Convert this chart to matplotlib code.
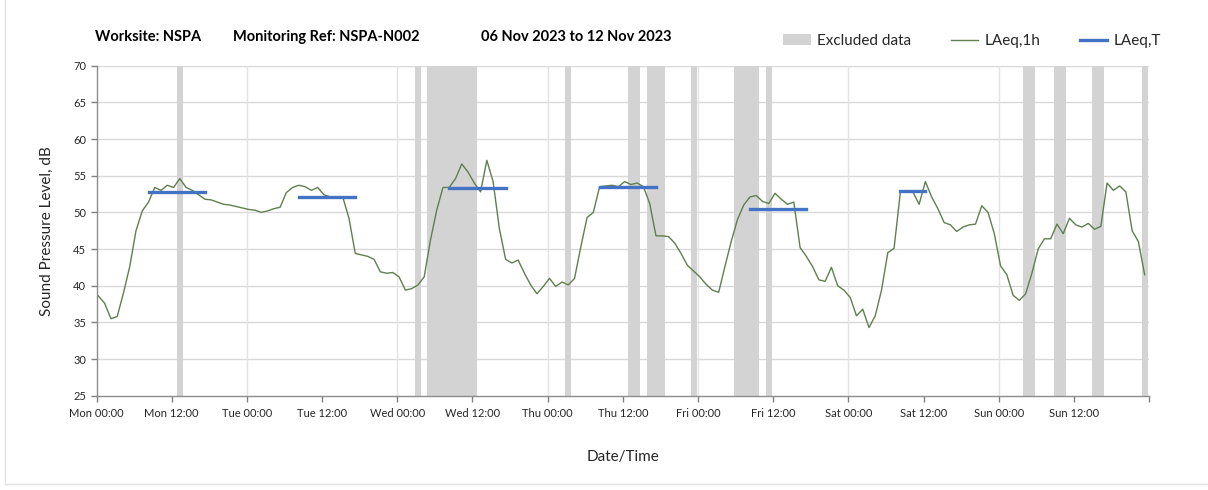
import matplotlib
matplotlib.use("Agg")
import matplotlib.pyplot as plt
from matplotlib.patches import Patch
from matplotlib.lines import Line2D
import numpy as np

plt.rcParams['font.family'] = ['Lato', 'DejaVu Sans']

# ---- data ----
laeq_1h = [
    38.6, 37.6, 35.5, 35.8, 39.0, 42.6, 47.5, 50.2, 51.4, 53.4, 53.0, 53.7,
    53.4, 54.6, 53.4, 53.0, 52.4, 51.8, 51.7, 51.4, 51.1, 51.0, 50.8, 50.6,
    50.4, 50.3, 50.0, 50.2, 50.5, 50.7, 52.7, 53.4, 53.7, 53.5, 53.0, 53.4,
    52.4, 52.1, 52.1, 52.1, 49.2, 44.4, 44.2, 44.0, 43.6, 41.9, 41.7, 41.8,
    41.2, 39.4, 39.6, 40.1, 41.2, 46.2, 50.3, 53.4, 53.4, 54.6, 56.6, 55.5,
    54.0, 52.8, 57.1, 54.2, 47.8, 43.6, 43.1, 43.5, 41.7, 40.1, 38.9, 39.9,
    41.0, 39.9, 40.5, 40.1, 41.0, 45.3, 49.3, 50.0, 53.5, 53.6, 53.7, 53.5,
    54.2, 53.8, 54.0, 53.5, 51.2, 46.8, 46.8, 46.7, 45.8, 44.4, 42.8, 42.0,
    41.2, 40.2, 39.4, 39.1, 42.6, 46.0, 49.0, 51.0, 52.1, 52.3, 51.5, 51.2,
    52.6, 51.8, 51.1, 51.4, 45.2, 44.0, 42.6, 40.8, 40.6, 42.5, 40.0, 39.4,
    38.4, 35.9, 36.8, 34.3, 35.9, 39.4, 44.5, 45.1, 52.7, 52.9, 52.8, 51.1,
    54.2, 52.1, 50.5, 48.6, 48.3, 47.4, 48.0, 48.3, 48.4, 50.9, 50.0, 47.1,
    42.7, 41.5, 38.7, 38.0, 38.9, 41.7, 45.0, 46.4, 46.4, 48.4, 47.1, 49.2,
    48.3, 48.0, 48.5, 47.7, 48.1, 54.0, 53.0, 53.6, 52.8, 47.5, 46.0, 41.5,
]
excluded_hours = [13, 51, 53, 54, 55, 56, 57, 58, 59, 60, 75, 85, 86, 88, 89,
                  90, 95, 102, 103, 104, 105, 107, 148, 149, 153, 154, 159,
                  160, 167]
# LAeq,T periods: (start hour, end hour, level)
period_start = [8.3, 32.3, 56.3, 80.3, 104.3, 128.3]
period_end = [17.3, 41.3, 65.3, 89.3, 113.3, 132.3]
period_level = [52.8, 52.1, 53.3, 53.5, 50.5, 52.9]

tick_labels = ["Mon 00:00", "Mon 12:00", "Tue 00:00", "Tue 12:00",
               "Wed 00:00", "Wed 12:00", "Thu 00:00", "Thu 12:00",
               "Fri 00:00", "Fri 12:00", "Sat 00:00", "Sat 12:00",
               "Sun 00:00", "Sun 12:00"]
time_offset = 0.3  # hourly values plotted slightly after the hour

# ---- group excluded hours into contiguous runs ----
runs = []
for h in excluded_hours:
    if runs and h == runs[-1][1] + 1:
        runs[-1][1] = h
    else:
        runs.append([h, h])
run_left = np.array([r[0] for r in runs]) + time_offset - 0.48
run_width = np.array([r[1] - r[0] for r in runs]) + 0.96

# ---- figure ----
fig = plt.figure(figsize=(12.08, 4.90), dpi=100)
ax = fig.add_axes([0.0799, 0.1924, 0.8713, 0.6735])

# faint outer frame lines (left and bottom)
yb = 1 - 484 / 490
fig.add_artist(Line2D([5 / 1208, 5 / 1208], [yb, 1],
                      transform=fig.transFigure, color='#e3e3e3', lw=1.0))
fig.add_artist(Line2D([5 / 1208, 1], [yb, yb],
                      transform=fig.transFigure, color='#e3e3e3', lw=1.0))

grid_c = '#d9d9d9'
excl_c = '#d3d3d3'
green = '#5f7f4f'
blue = '#4472c4'
txt_c = '#262626'

t = np.arange(len(laeq_1h)) + time_offset
ax.bar(run_left, 45, bottom=25, width=run_width, align='edge', color=excl_c,
       linewidth=0, zorder=1)

for y in range(30, 75, 5):
    ax.axhline(y, color=grid_c, lw=1.0, zorder=0)
for d in range(24, 168, 24):
    ax.axvline(d, color='#e3e3e3', lw=1.0, zorder=0)

ax.plot(t, laeq_1h, color=green, lw=1.0, zorder=3)
for s, e, v in zip(period_start, period_end, period_level):
    ax.plot([s, e], [v, v], color=blue, lw=2.4, solid_capstyle='projecting',
            zorder=4)

ax.set_xlim(0, 168)
ax.set_ylim(25, 70)
ax.set_yticks(range(25, 75, 5))
ax.set_xticks(np.arange(0, 168, 12))
ax.set_xticklabels(tick_labels)
ax.set_xticks([168], minor=True)
ax.tick_params(axis='both', which='both', labelsize=8, colors='#808080',
               labelcolor=txt_c, length=4, width=1.0, direction='out')
ax.tick_params(axis='x', pad=5)
for sp in ['top', 'right']:
    ax.spines[sp].set_visible(False)
for sp in ['left', 'bottom']:
    ax.spines[sp].set_color('#8c8c8c')
    ax.spines[sp].set_linewidth(1.0)

ax.set_ylabel('Sound Pressure Level, dB', fontsize=11, color=txt_c, labelpad=14)
ax.set_xlabel('Date/Time', fontsize=11, color=txt_c, labelpad=22)

# title
fig.text(95 / 1208, 1 - 37 / 490, 'Worksite: NSPA', fontsize=10.5,
         fontweight='bold', va='center', ha='left', color='black')
fig.text(233 / 1208, 1 - 37 / 490, 'Monitoring Ref: NSPA-N002', fontsize=10.5,
         fontweight='bold', va='center', ha='left', color='black')
fig.text(481 / 1208, 1 - 37 / 490, '06 Nov 2023 to 12 Nov 2023', fontsize=10.5,
         fontweight='bold', va='center', ha='left', color='black')

handles = [Patch(facecolor=excl_c, edgecolor='none'),
           Line2D([], [], color=green, lw=1.0),
           Line2D([], [], color=blue, lw=2.4)]
labels = ['Excluded data', 'LAeq,1h', 'LAeq,T']
fig.legend(handles, labels, ncol=3, loc='center',
           bbox_to_anchor=(972 / 1208, 1 - 41 / 490), frameon=False,
           fontsize=11, handlelength=1.8, handletextpad=0.4,
           columnspacing=2.6, labelcolor=txt_c)

fig.savefig('out.png', dpi=100)
